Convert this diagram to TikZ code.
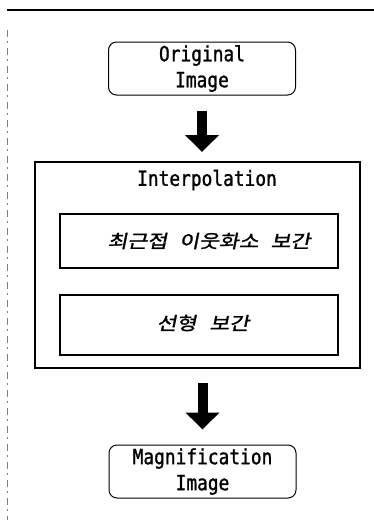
\documentclass[tikz,border=0pt]{standalone}
\usepackage{fontspec}
\usetikzlibrary{arrows.meta}
\newfontfamily\labfont[FakeStretch=0.85,FakeBold=1.2]{DejaVu Sans Mono}
\newfontfamily\krfont[FakeSlant=0.2,FakeBold=1.5,FakeStretch=1.2]{Noto Sans CJK KR}
\tikzset{
  roundbox/.style={draw, line width=1pt, rounded corners=8pt, minimum width=187pt, minimum height=53pt, inner sep=0pt,
    font=\labfont\fontsize{21}{26}\selectfont, align=center},
  outerbox/.style={draw, line width=2pt, minimum width=325pt, minimum height=206pt, inner sep=0pt},
  innerbox/.style={draw, line width=1.2pt, minimum width=278pt, inner sep=0pt},
  lab/.style={font=\labfont\fontsize{21}{26}\selectfont, inner sep=0pt},
  krlab/.style={font=\krfont\fontsize{18}{20}\selectfont, inner sep=0pt},
  blockarrow/.style={line width=10pt, -{Triangle[width=33pt,length=17pt]}},
  rule/.style={line width=1.5pt},
  sideline/.style={line width=0.6pt, gray, dash pattern=on 7pt off 4pt on 2pt off 5pt},
}
\begin{document}
\begin{tikzpicture}[x=1pt,y=-1pt]
\useasboundingbox (0,0) rectangle (374,520);
\fill[white] (0,0) rectangle (374,520);
% page rules
\coordinate (tl) at (7,10);
\coordinate (tr) at (374,10);
\coordinate (bl) at (7,520);
\draw[rule] (tl) -- (tr);
\draw[sideline] ([yshift=-20pt]tl) -- (bl);
% boxes
\node[roundbox] (orig) at (202,68.5) {Original\\Image};
\node[outerbox] (interp) at (197.5,265) {};
\node[innerbox, minimum height=54pt] (knn) at (199,241) {};
\node[innerbox, minimum height=60pt] (lin) at (199,325) {};
\node[roundbox] (mag) at (202.5,471.5) {Magnification\\Image};
% texts
\node[lab] (title) at (207,180) {Interpolation};
\node[krlab] (knntext) at (209,241) {최근접\hspace{12pt}이웃화소\hspace{12pt}보간};
\node[krlab] (lintext) at (203,323) {선형\hspace{13pt}보간};
% arrows
\draw[blockarrow, shorten <=15pt, shorten >=9pt] (orig.south) -- (orig.south |- interp.north);
\draw[blockarrow, shorten <=14pt, shorten >=15pt] (mag.north |- interp.south) -- (mag.north);
\end{tikzpicture}
\end{document}
